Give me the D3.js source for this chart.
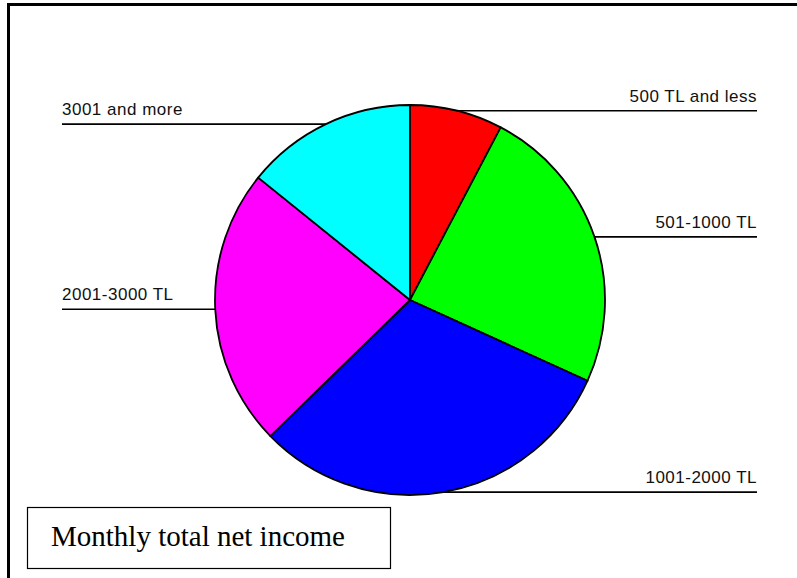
<!DOCTYPE html>
<html><head><meta charset="utf-8">
<script src="https://cdn.jsdelivr.net/npm/d3@7"></script>
<style>html,body{margin:0;padding:0;background:#fff;}svg{display:block;}</style>
</head><body>
<svg id="c" width="797" height="578"></svg>
<script>
const categories = ["500 TL and less", "501-1000 TL", "1001-2000 TL", "2001-3000 TL", "3001 and more"];
const values = [7.7, 24.1, 30.9, 23.1, 14.2];
const colors = ["#ff0000", "#00ff00", "#0000ff", "#ff00ff", "#00ffff"];
const title = "Monthly total net income";

const svg = d3.select("#c");
const W = 797, H = 578;
const cx = 410, cy = 300, r = 195;

// frame
svg.append("line").attr("x1", 7).attr("x2", W).attr("y1", 4.5).attr("y2", 4.5)
  .attr("stroke", "#000").attr("stroke-width", 3);
svg.append("line").attr("x1", 8.5).attr("x2", 8.5).attr("y1", 3).attr("y2", H)
  .attr("stroke", "#000").attr("stroke-width", 3);

const data = categories.map((c, i) => ({cat: c, v: values[i], col: colors[i]}));
const pie = d3.pie().value(d => d.v).sort(null);
const arcs = pie(data);
const arc = d3.arc().innerRadius(0).outerRadius(r);

const g = svg.append("g").attr("transform", `translate(${cx},${cy})`);
g.selectAll("path").data(arcs).join("path")
  .attr("d", arc)
  .attr("fill", d => d.data.col)
  .attr("stroke", "#000")
  .attr("stroke-width", 1.8)
  .attr("stroke-linejoin", "round");

// labels
const leftX = 62, rightX = 757;
arcs.forEach(a => {
  const mid = (a.startAngle + a.endAngle) / 2;
  const px = cx + r * Math.sin(mid);
  const py = cy - r * Math.cos(mid);
  const right = px >= cx;
  const ex = right ? rightX : leftX;
  svg.append("line").attr("x1", px).attr("x2", ex).attr("y1", py).attr("y2", py)
    .attr("stroke", "#000").attr("stroke-width", 1.6);
  svg.append("text")
    .attr("x", ex).attr("y", py - 9)
    .attr("text-anchor", right ? "end" : "start")
    .attr("font-family", "Liberation Sans, Arial, sans-serif")
    .attr("font-size", 17)
    .style("letter-spacing", "0.5px")
    .attr("fill", "#111")
    .text(a.data.cat);
});

// title box
svg.append("rect").attr("x", 27.5).attr("y", 507.5).attr("width", 363).attr("height", 61)
  .attr("fill", "#fff").attr("stroke", "#000").attr("stroke-width", 1.2);
svg.append("text").attr("x", 51).attr("y", 546)
  .attr("font-family", "Liberation Serif, Times New Roman, serif")
  .attr("font-size", 29).attr("fill", "#000")
  .text(title);
</script>
</body></html>
